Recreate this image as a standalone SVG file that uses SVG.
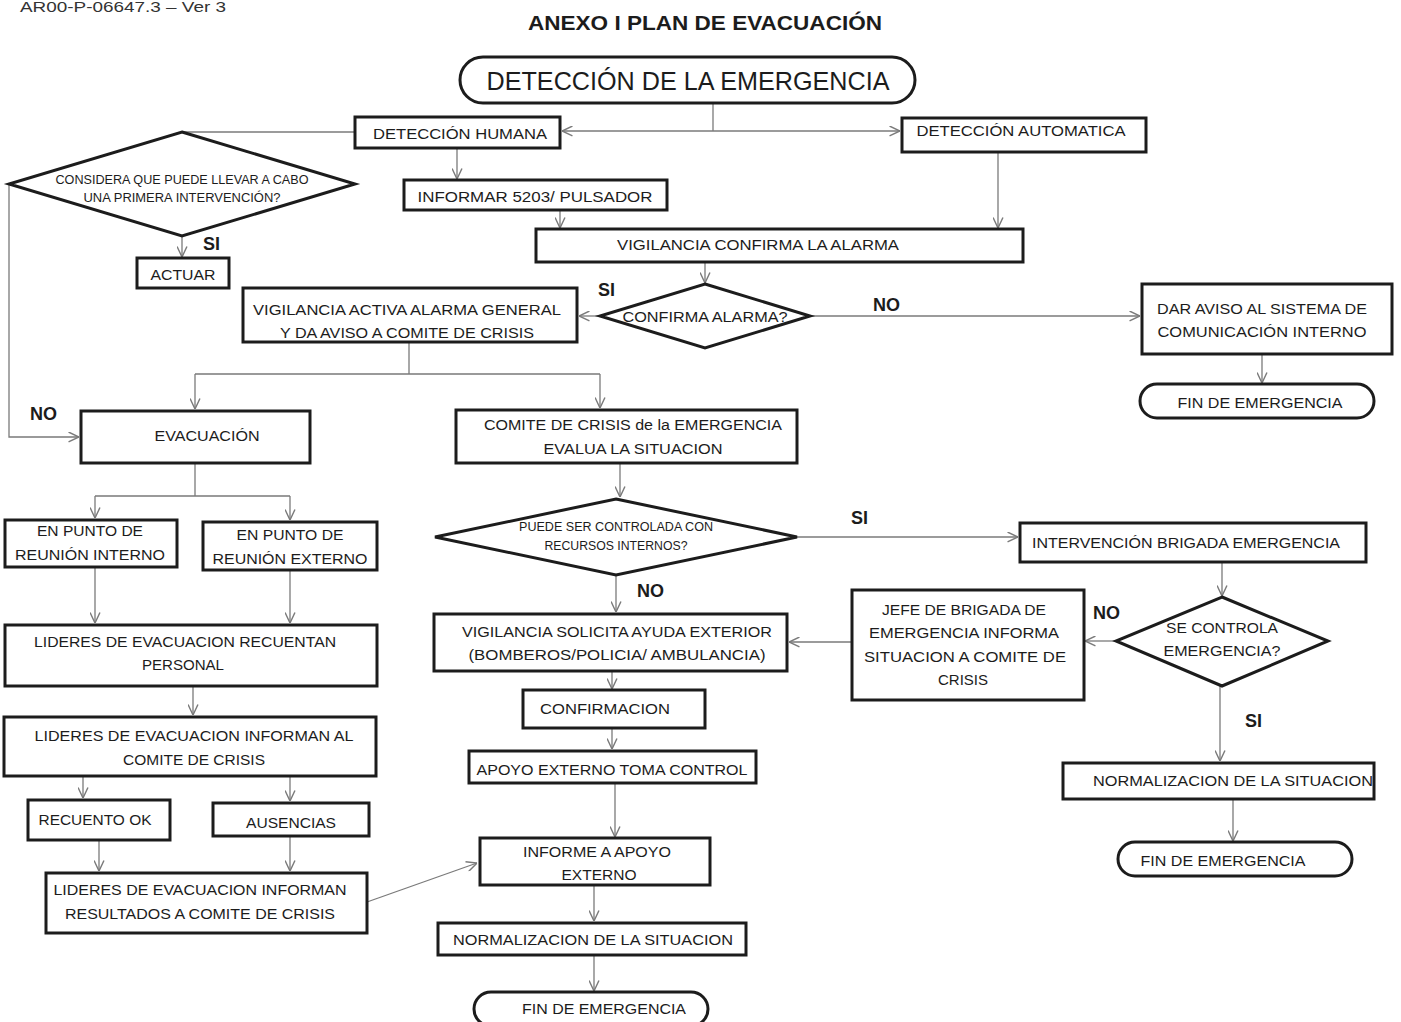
<svg xmlns="http://www.w3.org/2000/svg" width="1401" height="1022" viewBox="0 0 1401 1022">
<style>
.b{fill:#fff;stroke:#1c1c1c;stroke-width:3}
.t{font-family:"Liberation Sans",Arial,sans-serif;font-size:15.5px;fill:#1c1c1c;text-anchor:middle}
.s{font-size:12px}
.l{font-family:"Liberation Sans",Arial,sans-serif;font-size:18px;font-weight:bold;fill:#1c1c1c}
.c{fill:none;stroke:#7a7a7a;stroke-width:1.3}
</style>
<defs>
<marker id="a" viewBox="0 0 10 10" refX="10" refY="5" markerWidth="11" markerHeight="11" markerUnits="userSpaceOnUse" orient="auto">
<path d="M0.5,0.5 L10,5 L0.5,9.5" fill="none" stroke="#7a7a7a" stroke-width="1.3"/>
</marker>
</defs>
<rect width="1401" height="1022" fill="#fff"/>
<text x="20" y="12" style="font-family:'Liberation Sans',Arial,sans-serif;font-size:15px;fill:#333" textLength="206" lengthAdjust="spacingAndGlyphs">AR00-P-06647.3 – Ver 3</text>
<text x="705" y="30" class="t" style="font-size:21px;font-weight:bold" textLength="354" lengthAdjust="spacingAndGlyphs">ANEXO I PLAN DE EVACUACIÓN</text>

<g id="connectors">
<path class="c" d="M713,103 V131"/>
<path class="c" d="M713,131 H562" marker-end="url(#a)"/>
<path class="c" d="M713,131 H900" marker-end="url(#a)"/>
<path class="c" d="M355,132 H182"/>
<path class="c" d="M182,236 V257" marker-end="url(#a)"/>
<path class="c" d="M9,184 V437 H79" marker-end="url(#a)"/>
<path class="c" d="M457,148 V179" marker-end="url(#a)"/>
<path class="c" d="M560,210 V228" marker-end="url(#a)"/>
<path class="c" d="M998,153 V228" marker-end="url(#a)"/>
<path class="c" d="M705,263 V283" marker-end="url(#a)"/>
<path class="c" d="M600,316 H579" marker-end="url(#a)"/>
<path class="c" d="M810,316 H1140" marker-end="url(#a)"/>
<path class="c" d="M1262,354 V383" marker-end="url(#a)"/>
<path class="c" d="M409,342 V374 M195,374 H600"/>
<path class="c" d="M195,374 V409" marker-end="url(#a)"/>
<path class="c" d="M600,374 V408" marker-end="url(#a)"/>
<path class="c" d="M195,463 V496 M95,496 H290"/>
<path class="c" d="M95,496 V518" marker-end="url(#a)"/>
<path class="c" d="M290,496 V520" marker-end="url(#a)"/>
<path class="c" d="M95,567 V623" marker-end="url(#a)"/>
<path class="c" d="M290,570 V623" marker-end="url(#a)"/>
<path class="c" d="M193,686 V715" marker-end="url(#a)"/>
<path class="c" d="M83,776 V798" marker-end="url(#a)"/>
<path class="c" d="M290,776 V801" marker-end="url(#a)"/>
<path class="c" d="M99,840 V871" marker-end="url(#a)"/>
<path class="c" d="M290,836 V871" marker-end="url(#a)"/>
<path class="c" d="M367,902 L477,863" marker-end="url(#a)"/>
<path class="c" d="M620,463 V497" marker-end="url(#a)"/>
<path class="c" d="M797,537 H1018" marker-end="url(#a)"/>
<path class="c" d="M616,575 V612" marker-end="url(#a)"/>
<path class="c" d="M1222,562 V596" marker-end="url(#a)"/>
<path class="c" d="M1116,641 H1085" marker-end="url(#a)"/>
<path class="c" d="M852,642 H789" marker-end="url(#a)"/>
<path class="c" d="M612,671 V689" marker-end="url(#a)"/>
<path class="c" d="M612,728 V749" marker-end="url(#a)"/>
<path class="c" d="M615,783 V837" marker-end="url(#a)"/>
<path class="c" d="M594,885 V921" marker-end="url(#a)"/>
<path class="c" d="M594,955 V991" marker-end="url(#a)"/>
<path class="c" d="M1220,686 V761" marker-end="url(#a)"/>
<path class="c" d="M1233,800 V841" marker-end="url(#a)"/>
</g>

<g id="labels">
<text x="203" y="250" class="l">SI</text>
<text x="598" y="296" class="l">SI</text>
<text x="873" y="311" class="l">NO</text>
<text x="30" y="420" class="l">NO</text>
<text x="851" y="524" class="l">SI</text>
<text x="637" y="597" class="l">NO</text>
<text x="1093" y="619" class="l">NO</text>
<text x="1245" y="727" class="l">SI</text>
</g>

<g id="n-start">
<rect x="460" y="57" width="455" height="46" rx="23" ry="23" class="b"/>
<text x="688" y="90" class="t" style="font-size:25px" textLength="403" lengthAdjust="spacingAndGlyphs">DETECCIÓN DE LA EMERGENCIA</text>
</g>
<g id="n-humana">
<rect x="355" y="117" width="205" height="31" class="b"/>
<text x="460" y="139" class="t" textLength="174" lengthAdjust="spacingAndGlyphs">DETECCIÓN HUMANA</text>
</g>
<g id="n-auto">
<rect x="902" y="118" width="244" height="34" class="b"/>
<text x="1021" y="136" class="t" textLength="209" lengthAdjust="spacingAndGlyphs">DETECCIÓN AUTOMATICA</text>
</g>
<g id="n-considera">
<polygon points="182,132 355,184 182,236 9,184" class="b"/>
<text x="182" y="184" class="t s" textLength="253" lengthAdjust="spacingAndGlyphs">CONSIDERA QUE PUEDE LLEVAR A CABO</text>
<text x="182" y="202" class="t s" textLength="197" lengthAdjust="spacingAndGlyphs">UNA PRIMERA INTERVENCIÓN?</text>
</g>
<g id="n-actuar">
<rect x="137" y="258" width="92" height="30" class="b"/>
<text x="183" y="280" class="t" textLength="65" lengthAdjust="spacingAndGlyphs">ACTUAR</text>
</g>
<g id="n-informar">
<rect x="404" y="180" width="263" height="30" class="b"/>
<text x="535" y="202" class="t" textLength="235" lengthAdjust="spacingAndGlyphs">INFORMAR  5203/ PULSADOR</text>
</g>
<g id="n-vigconf">
<rect x="536" y="229" width="487" height="33" class="b"/>
<text x="758" y="250" class="t" textLength="282" lengthAdjust="spacingAndGlyphs">VIGILANCIA CONFIRMA LA ALARMA</text>
</g>
<g id="n-confirma">
<polygon points="705,284 810,316 705,348 600,316" class="b"/>
<text x="705" y="322" class="t" textLength="165" lengthAdjust="spacingAndGlyphs">CONFIRMA ALARMA?</text>
</g>
<g id="n-vigactiva">
<rect x="243" y="288" width="334" height="54" class="b"/>
<text x="407" y="315" class="t" textLength="308" lengthAdjust="spacingAndGlyphs">VIGILANCIA ACTIVA ALARMA GENERAL</text>
<text x="407" y="338" class="t" textLength="254" lengthAdjust="spacingAndGlyphs">Y DA AVISO A COMITE DE CRISIS</text>
</g>
<g id="n-daraviso">
<rect x="1142" y="284" width="250" height="70" class="b"/>
<text x="1262" y="314" class="t" textLength="210" lengthAdjust="spacingAndGlyphs">DAR AVISO AL SISTEMA DE</text>
<text x="1262" y="337" class="t" textLength="209" lengthAdjust="spacingAndGlyphs">COMUNICACIÓN INTERNO</text>
</g>
<g id="n-fin1">
<rect x="1140" y="384" width="234" height="34" rx="17" ry="17" class="b"/>
<text x="1260" y="408" class="t" textLength="165" lengthAdjust="spacingAndGlyphs">FIN DE EMERGENCIA</text>
</g>
<g id="n-evac">
<rect x="81" y="411" width="229" height="52" class="b"/>
<text x="207" y="441" class="t" textLength="105" lengthAdjust="spacingAndGlyphs">EVACUACIÓN</text>
</g>
<g id="n-comite">
<rect x="456" y="410" width="341" height="53" class="b"/>
<text x="633" y="430" class="t" textLength="298" lengthAdjust="spacingAndGlyphs">COMITE DE CRISIS de la EMERGENCIA</text>
<text x="633" y="454" class="t" textLength="179" lengthAdjust="spacingAndGlyphs">EVALUA LA SITUACION</text>
</g>
<g id="n-interno">
<rect x="5" y="520" width="172" height="47" class="b"/>
<text x="90" y="536" class="t" textLength="106" lengthAdjust="spacingAndGlyphs">EN PUNTO DE</text>
<text x="90" y="560" class="t" textLength="150" lengthAdjust="spacingAndGlyphs">REUNIÓN INTERNO</text>
</g>
<g id="n-externo">
<rect x="203" y="522" width="174" height="48" class="b"/>
<text x="290" y="540" class="t" textLength="107" lengthAdjust="spacingAndGlyphs">EN PUNTO DE</text>
<text x="290" y="564" class="t" textLength="155" lengthAdjust="spacingAndGlyphs">REUNIÓN EXTERNO</text>
</g>
<g id="n-puede">
<polygon points="616,499 797,537 616,575 435,537" class="b"/>
<text x="616" y="531" class="t s" textLength="194" lengthAdjust="spacingAndGlyphs">PUEDE SER CONTROLADA CON</text>
<text x="616" y="550" class="t s" textLength="143" lengthAdjust="spacingAndGlyphs">RECURSOS INTERNOS?</text>
</g>
<g id="n-intervencion">
<rect x="1020" y="523" width="346" height="39" class="b"/>
<text x="1186" y="548" class="t" textLength="308" lengthAdjust="spacingAndGlyphs">INTERVENCIÓN BRIGADA EMERGENCIA</text>
</g>
<g id="n-secontrola">
<polygon points="1222,597 1328,641 1222,686 1116,641" class="b"/>
<text x="1222" y="633" class="t" textLength="112" lengthAdjust="spacingAndGlyphs">SE CONTROLA</text>
<text x="1222" y="656" class="t" textLength="117" lengthAdjust="spacingAndGlyphs">EMERGENCIA?</text>
</g>
<g id="n-jefe">
<rect x="852" y="590" width="232" height="110" class="b"/>
<text x="964" y="615" class="t" textLength="164" lengthAdjust="spacingAndGlyphs">JEFE DE BRIGADA DE</text>
<text x="964" y="638" class="t" textLength="190" lengthAdjust="spacingAndGlyphs">EMERGENCIA INFORMA</text>
<text x="965" y="662" class="t" textLength="202" lengthAdjust="spacingAndGlyphs">SITUACION A COMITE DE</text>
<text x="963" y="685" class="t" textLength="50" lengthAdjust="spacingAndGlyphs">CRISIS</text>
</g>
<g id="n-vigsolicita">
<rect x="434" y="614" width="353" height="57" class="b"/>
<text x="617" y="637" class="t" textLength="310" lengthAdjust="spacingAndGlyphs">VIGILANCIA SOLICITA AYUDA EXTERIOR</text>
<text x="617" y="660" class="t" textLength="297" lengthAdjust="spacingAndGlyphs">(BOMBEROS/POLICIA/ AMBULANCIA)</text>
</g>
<g id="n-confirmacion">
<rect x="523" y="690" width="182" height="38" class="b"/>
<text x="605" y="714" class="t" textLength="130" lengthAdjust="spacingAndGlyphs">CONFIRMACION</text>
</g>
<g id="n-apoyo">
<rect x="469" y="751" width="287" height="32" class="b"/>
<text x="612" y="775" class="t" textLength="271" lengthAdjust="spacingAndGlyphs">APOYO EXTERNO TOMA CONTROL</text>
</g>
<g id="n-informe">
<rect x="480" y="838" width="230" height="47" class="b"/>
<text x="597" y="857" class="t" textLength="148" lengthAdjust="spacingAndGlyphs">INFORME A APOYO</text>
<text x="599" y="880" class="t" textLength="75" lengthAdjust="spacingAndGlyphs">EXTERNO</text>
</g>
<g id="n-norm1">
<rect x="438" y="923" width="308" height="32" class="b"/>
<text x="593" y="945" class="t" textLength="280" lengthAdjust="spacingAndGlyphs">NORMALIZACION DE LA SITUACION</text>
</g>
<g id="n-fin3">
<rect x="474" y="992" width="234" height="34" rx="17" ry="17" class="b"/>
<text x="604" y="1014" class="t" textLength="164" lengthAdjust="spacingAndGlyphs">FIN DE EMERGENCIA</text>
</g>
<g id="n-norm2">
<rect x="1063" y="763" width="311" height="36" class="b"/>
<text x="1233" y="786" class="t" textLength="280" lengthAdjust="spacingAndGlyphs">NORMALIZACION DE LA SITUACION</text>
</g>
<g id="n-fin2">
<rect x="1118" y="842" width="234" height="34" rx="17" ry="17" class="b"/>
<text x="1223" y="866" class="t" textLength="165" lengthAdjust="spacingAndGlyphs">FIN DE EMERGENCIA</text>
</g>
<g id="n-recuentan">
<rect x="5" y="625" width="372" height="61" class="b"/>
<text x="185" y="647" class="t" textLength="302" lengthAdjust="spacingAndGlyphs">LIDERES DE EVACUACION RECUENTAN</text>
<text x="183" y="670" class="t" textLength="82" lengthAdjust="spacingAndGlyphs">PERSONAL</text>
</g>
<g id="n-informanal">
<rect x="4" y="717" width="372" height="59" class="b"/>
<text x="194" y="741" class="t" textLength="319" lengthAdjust="spacingAndGlyphs">LIDERES DE EVACUACION INFORMAN AL</text>
<text x="194" y="765" class="t" textLength="142" lengthAdjust="spacingAndGlyphs">COMITE DE CRISIS</text>
</g>
<g id="n-recuentook">
<rect x="28" y="800" width="142" height="40" class="b"/>
<text x="95" y="825" class="t" textLength="113" lengthAdjust="spacingAndGlyphs">RECUENTO OK</text>
</g>
<g id="n-ausencias">
<rect x="213" y="803" width="156" height="33" class="b"/>
<text x="291" y="828" class="t" textLength="90" lengthAdjust="spacingAndGlyphs">AUSENCIAS</text>
</g>
<g id="n-resultados">
<rect x="46" y="873" width="321" height="60" class="b"/>
<text x="200" y="895" class="t" textLength="293" lengthAdjust="spacingAndGlyphs">LIDERES DE EVACUACION INFORMAN</text>
<text x="200" y="919" class="t" textLength="270" lengthAdjust="spacingAndGlyphs">RESULTADOS  A COMITE DE CRISIS</text>
</g>
</svg>
